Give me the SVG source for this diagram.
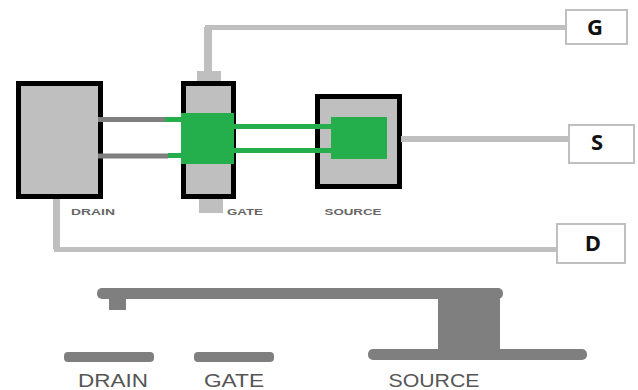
<svg xmlns="http://www.w3.org/2000/svg" width="638" height="390" viewBox="0 0 638 390">
<style>
.part{fill:#bfbfbf;stroke:#000;stroke-width:5}
.wire{fill:none;stroke:#bfbfbf;stroke-linejoin:round}
.ch{fill:none;stroke-width:5}
.green{fill:#25ae4c}
.dark{fill:#7f7f7f}
.pad{fill:#bfbfbf}
.term{fill:#fff;stroke:#bfbfbf;stroke-width:2}
.termt{font:bold 22px "Open Sans","Liberation Sans",sans-serif;fill:#111;text-anchor:middle}
.small{font:bold 9px "Liberation Sans",sans-serif;fill:#666;text-anchor:middle}
.big{font:19px "Liberation Sans",sans-serif;fill:#555;text-anchor:middle}
</style>
<rect width="638" height="390" fill="#fff"/>
<g id="drain"><rect class="part" x="18.500" y="83.500" width="82" height="113"/><text class="small" x="93" y="215" textLength="44" lengthAdjust="spacingAndGlyphs">DRAIN</text></g>
<g id="gate">
<rect class="pad" x="197" y="71" width="24" height="11"/>
<rect class="pad" x="199" y="198" width="24" height="15"/>
<rect class="part" x="183.500" y="83.500" width="50" height="113"/>
<rect class="green" x="181" y="113" width="53" height="51"/>
<text class="small" x="245" y="215" textLength="36" lengthAdjust="spacingAndGlyphs">GATE</text></g>
<g id="source"><rect class="part" x="317.500" y="96.500" width="82" height="90"/><rect class="green" x="331" y="117" width="56" height="42"/><text class="small" x="353" y="215" textLength="57" lengthAdjust="spacingAndGlyphs">SOURCE</text></g>
<g id="terminal-g"><rect class="term" x="566" y="10" width="61" height="34"/><text class="termt" x="595" y="35">G</text></g>
<g id="terminal-s"><rect class="term" x="569" y="125" width="65" height="38"/><text class="termt" x="597" y="150">S</text></g>
<g id="terminal-d"><rect class="term" x="557" y="224" width="68" height="39"/><text class="termt" x="593" y="251">D</text></g>
<g id="connectors">
<path class="wire" stroke-width="8" d="M208 72V27"/>
<path class="wire" stroke-width="5" d="M205 27.500H566"/>
<path class="wire" stroke-width="6" d="M401 139H568"/>
<path class="wire" stroke-width="7" d="M56.500 199V249"/>
<path class="wire" stroke-width="5" d="M54 249.500H558"/>
<path class="ch" stroke="#7f7f7f" d="M98 119.500H166M98 156H168"/>
<path class="ch" stroke="#25ae4c" d="M165 119.500H183M168 155.500H183M232 126.500H333M232 150.500H333"/>
</g>
<g id="cross-section">
<rect class="dark" x="97" y="288" width="406" height="11" rx="5"/>
<rect class="dark" x="109" y="298" width="17" height="12"/>
<rect class="dark" x="438" y="298" width="62" height="52"/>
<rect class="dark" x="368" y="349" width="219" height="11" rx="5"/>
<rect class="dark" x="64" y="352" width="90" height="10" rx="4"/>
<rect class="dark" x="194" y="352" width="80" height="10" rx="4"/>
<text class="big" x="113" y="387" textLength="70" lengthAdjust="spacingAndGlyphs">DRAIN</text>
<text class="big" x="234" y="387" textLength="60" lengthAdjust="spacingAndGlyphs">GATE</text>
<text class="big" x="434" y="387" textLength="91" lengthAdjust="spacingAndGlyphs">SOURCE</text>
</g>
</svg>
